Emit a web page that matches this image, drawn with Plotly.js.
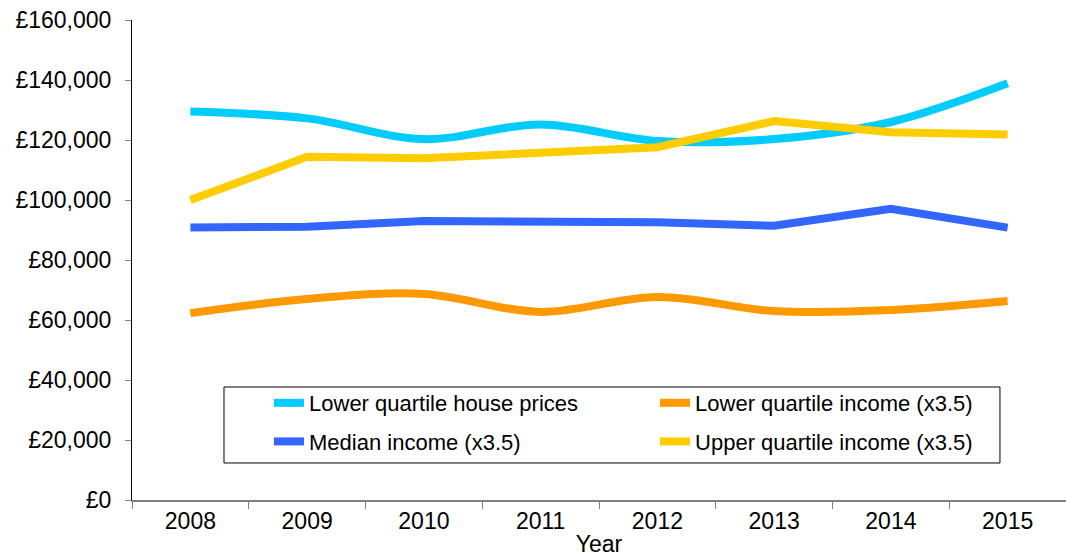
<!DOCTYPE html>
<html>
<head>
<meta charset="utf-8">
<script src="https://cdn.plot.ly/plotly-3.0.1.min.js"></script>
<style>html,body{margin:0;padding:0;background:#fff;}#chart{width:1066px;height:557px;}</style>
</head>
<body>
<div id="chart"></div>
<script>
var years = ['2008', '2009', '2010', '2011', '2012', '2013', '2014', '2015'];
var lowerQuartileHousePrices = [129500, 127200, 120300, 125200, 119700, 120300, 126000, 138900];
var lowerQuartileIncome = [62300, 67000, 68700, 62700, 67700, 63000, 63300, 66300];
var medianIncome = [90800, 91100, 93000, 92700, 92600, 91400, 97100, 90800];
var upperQuartileIncome = [100000, 114400, 113900, 115600, 117600, 126300, 122600, 121800];
var yTickValues = [0, 20000, 40000, 60000, 80000, 100000, 120000, 140000, 160000];
var yTickLabels = yTickValues.map(function (v) {
  return '\u00A3' + String(v).replace(/\B(?=(\d{3})+(?!\d))/g, ',');
});

var font = 'Liberation Sans, Arial, sans-serif';

var traces = [
  {name: 'Lower quartile house prices', x: years, y: lowerQuartileHousePrices, type: 'scatter', mode: 'lines',
   legend: 'legend', legendgroup: 'a',
   line: {color: '#00CCFF', width: 8, shape: 'spline', smoothing: 1}},
  {name: 'Lower quartile income (x3.5)', x: years, y: lowerQuartileIncome, type: 'scatter', mode: 'lines',
   legend: 'legend2', legendgroup: 'b',
   line: {color: '#FF9900', width: 8, shape: 'spline', smoothing: 1}},
  {name: 'Median income (x3.5)', x: years, y: medianIncome, type: 'scatter', mode: 'lines',
   legend: 'legend', legendgroup: 'c',
   line: {color: '#3366FF', width: 8, shape: 'linear'}},
  {name: 'Upper quartile income (x3.5)', x: years, y: upperQuartileIncome, type: 'scatter', mode: 'lines',
   legend: 'legend2', legendgroup: 'd',
   line: {color: '#FFCC00', width: 8, shape: 'linear'}}
];

var legendCommon = {
  orientation: 'v', xanchor: 'left', yanchor: 'top', y: 0.2458,
  bgcolor: 'rgba(0,0,0,0)', borderwidth: 0, tracegroupgap: 7,
  font: {family: font, size: 22, color: '#000'}, traceorder: 'grouped'
};

var layout = {
  width: 1066, height: 557,
  margin: {l: 132, r: 0, t: 20, b: 57, pad: 0},
  paper_bgcolor: '#fff', plot_bgcolor: '#fff',
  font: {family: font, size: 23, color: '#000'},
  showlegend: true,
  legend: Object.assign({}, legendCommon, {x: 0.1467}),
  legend2: Object.assign({}, legendCommon, {x: 0.56}),
  shapes: [{
    type: 'rect', xref: 'paper', yref: 'paper', x0: 0.0985, x1: 0.9293, y0: 0.0771, y1: 0.2354,
    line: {color: '#000', width: 1}, fillcolor: '#fff', layer: 'above'
  }],
  xaxis: {
    type: 'category', range: [-0.5, 7.5], tickson: 'boundaries',
    ticks: 'outside', ticklen: 7, tickcolor: '#808080', tickwidth: 1,
    showline: true, linecolor: '#808080', linewidth: 1.5,
    showgrid: false, zeroline: false,
    tickfont: {family: font, size: 23, color: '#000'},
    title: {text: 'Year', font: {family: font, size: 23, color: '#000'}, standoff: 6},
    fixedrange: true
  },
  yaxis: {
    range: [0, 160000], tickvals: yTickValues, ticktext: yTickLabels,
    ticks: 'outside', ticklen: 6, tickcolor: '#808080', tickwidth: 1,
    showline: true, linecolor: '#000', linewidth: 1,
    showgrid: false, zeroline: false,
    tickfont: {family: font, size: 23, color: '#000'},
    ticklabelstandoff: 9,
    fixedrange: true
  }
};

Plotly.newPlot('chart', traces, layout, {displayModeBar: false, staticPlot: true});
</script>
</body>
</html>
